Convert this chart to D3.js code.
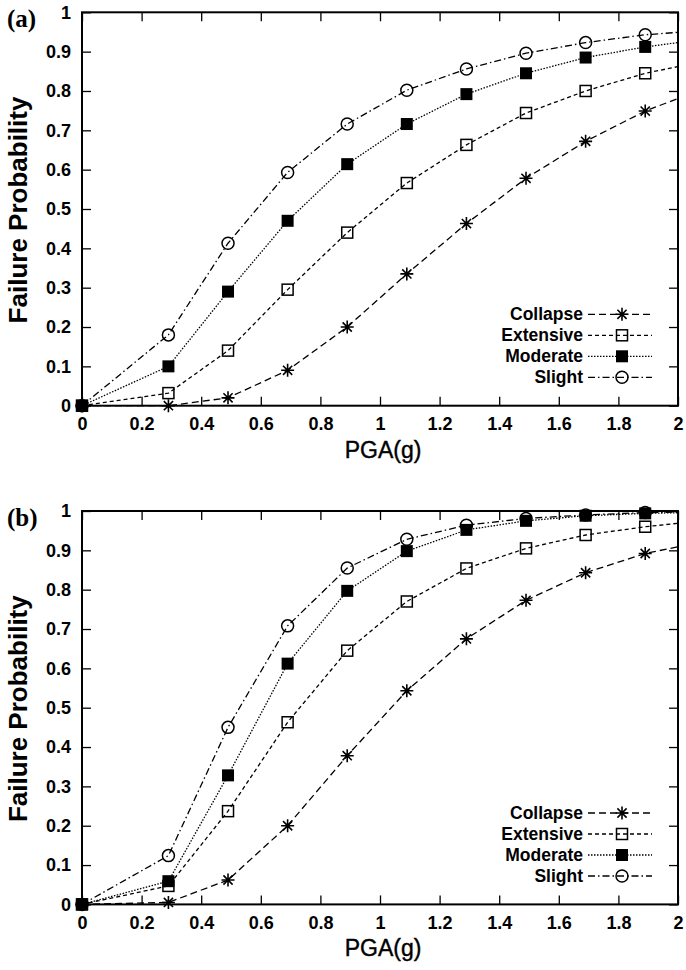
<!DOCTYPE html>
<html>
<head>
<meta charset="utf-8">
<script src="https://cdn.jsdelivr.net/npm/d3@7"></script>
<style>
  body { margin: 0; background: #fff; }
  svg { display: block; }
  .tick text { font-family: "Liberation Sans", Arial, sans-serif; font-weight: bold; font-size: 18px; fill: #000; }
</style>
</head>
<body>
<div id="viz"></div>
<script>
// PGA values (g) where fragility points were computed; last one lies past the frame and is clipped
var pga = [0, 0.29, 0.49, 0.69, 0.89, 1.09, 1.29, 1.49, 1.69, 1.89, 2.09];

// panel (a)
var collapseA  = [0, 0.0,   0.02,  0.09,  0.20,  0.335, 0.463, 0.578, 0.672, 0.749, 0.807];
var extensiveA = [0, 0.032, 0.14,  0.295, 0.44,  0.566, 0.663, 0.744, 0.80,  0.845, 0.876];
var moderateA  = [0, 0.10,  0.29,  0.47,  0.614, 0.716, 0.792, 0.845, 0.885, 0.912, 0.932];
var slightA    = [0, 0.18,  0.413, 0.593, 0.716, 0.802, 0.856, 0.896, 0.923, 0.943, 0.954];

// panel (b)
var collapseB  = [0, 0.005, 0.062, 0.20,  0.378, 0.543, 0.675, 0.773, 0.843, 0.892, 0.923];
var extensiveB = [0, 0.047, 0.237, 0.463, 0.645, 0.77,  0.854, 0.905, 0.939, 0.96,  0.976];
var moderateB  = [0, 0.059, 0.328, 0.612, 0.797, 0.898, 0.952, 0.975, 0.988, 0.994, 0.997];
var slightB    = [0, 0.124, 0.45,  0.708, 0.855, 0.928, 0.964, 0.981, 0.99,  0.996, 0.998];

var damageStates = ['Collapse', 'Extensive', 'Moderate', 'Slight'];
var xTicks = [0, 0.2, 0.4, 0.6, 0.8, 1, 1.2, 1.4, 1.6, 1.8, 2];
var yTicks = [0, 0.1, 0.2, 0.3, 0.4, 0.5, 0.6, 0.7, 0.8, 0.9, 1];

var styles = {
    'Collapse':  {dash: '7,4',          marker: 'star'},
    'Extensive': {dash: '4,3',          marker: 'openSquare'},
    'Moderate':  {dash: '1.5,1.5',      marker: 'filledSquare'},
    'Slight':    {dash: '7,3,1.5,3',    marker: 'openCircle'}
};

var width = 686, height = 970;
var svg = d3.select('#viz').append('svg')
    .attr('width', width)
    .attr('height', height);

var fmt = function (d) { return String(+d.toFixed(1)); };

function drawMarker(g, type, x, y) {
    if (type == 'star') {
        var r = 6.5, s = 4.6;
        g.append('path')
            .attr('d', 'M' + (x - r) + ',' + y + 'H' + (x + r) +
                       'M' + x + ',' + (y - r) + 'V' + (y + r) +
                       'M' + (x - s) + ',' + (y - s) + 'L' + (x + s) + ',' + (y + s) +
                       'M' + (x - s) + ',' + (y + s) + 'L' + (x + s) + ',' + (y - s))
            .attr('stroke', '#000').attr('stroke-width', 1.6).attr('fill', 'none');
    } else if (type == 'openSquare') {
        g.append('rect').attr('x', x - 5.5).attr('y', y - 5.5).attr('width', 11).attr('height', 11)
            .attr('fill', 'none').attr('stroke', '#000').attr('stroke-width', 1.5);
    } else if (type == 'filledSquare') {
        g.append('rect').attr('x', x - 6).attr('y', y - 6).attr('width', 12).attr('height', 12)
            .attr('fill', '#000');
    } else if (type == 'openCircle') {
        g.append('circle').attr('cx', x).attr('cy', y).attr('r', 6)
            .attr('fill', 'none').attr('stroke', '#000').attr('stroke-width', 1.5);
    }
}

function drawPanel(id, top, label, series) {
    var margin = {left: 82, right: 8, top: top};
    var plotW = 678 - 82, plotH = 393.4;

    var x = d3.scaleLinear().domain([0, 2]).range([0, plotW]);
    var y = d3.scaleLinear().domain([0, 1]).range([plotH, 0]);

    var g = svg.append('g').attr('transform', 'translate(' + margin.left + ',' + top + ')');

    // clip only on the right, where the curves run past PGA = 2
    g.append('clipPath').attr('id', 'clip' + id)
        .append('rect').attr('x', -12).attr('y', -8).attr('width', plotW + 12).attr('height', plotH + 16);

    // axes, ticks pointing inward on all four sides
    g.append('g').attr('transform', 'translate(0,' + plotH + ')')
        .call(d3.axisBottom(x).tickValues(xTicks).tickSize(-9).tickPadding(12).tickFormat(fmt));
    g.append('g')
        .call(d3.axisTop(x).tickValues(xTicks).tickSize(-9).tickFormat(''));
    g.append('g')
        .call(d3.axisLeft(y).tickValues(yTicks).tickSize(-9).tickPadding(11).tickFormat(fmt));
    g.append('g').attr('transform', 'translate(' + plotW + ',0)')
        .call(d3.axisRight(y).tickValues(yTicks).tickSize(-9).tickFormat(''));
    g.selectAll('.domain').remove();
    g.selectAll('.tick line').attr('stroke', '#000').attr('stroke-width', 1.3);

    g.append('rect').attr('x', 0).attr('y', 0).attr('width', plotW).attr('height', plotH)
        .attr('fill', 'none').attr('stroke', '#000').attr('stroke-width', 2);

    // data
    var lineGen = d3.line().x(function (d) { return x(d[0]); }).y(function (d) { return y(d[1]); });
    var dataG = g.append('g').attr('clip-path', 'url(#clip' + id + ')');
    damageStates.forEach(function (name) {
        var pts = d3.zip(pga, series[name]);
        dataG.append('path').datum(pts)
            .attr('d', lineGen)
            .attr('fill', 'none')
            .attr('stroke', '#000')
            .attr('stroke-width', 1.3)
            .attr('stroke-dasharray', styles[name].dash);
        pts.forEach(function (p) {
            if (p[0] <= 2) drawMarker(dataG, styles[name].marker, x(p[0]), y(p[1]));
        });
    });

    // legend
    var legOffsets = [302, 323, 344, 365];
    damageStates.forEach(function (name, i) {
        var ly = legOffsets[i];
        g.append('text')
            .attr('x', 583 - margin.left).attr('y', ly)
            .attr('dy', '0.35em')
            .attr('text-anchor', 'end')
            .style('font-family', '"Liberation Sans", Arial, sans-serif')
            .style('font-weight', 'bold')
            .style('font-size', '17.5px')
            .text(name);
        g.append('line')
            .attr('x1', 588 - margin.left).attr('x2', 652 - margin.left)
            .attr('y1', ly).attr('y2', ly)
            .attr('stroke', '#000').attr('stroke-width', 1.3)
            .attr('stroke-dasharray', styles[name].dash);
        drawMarker(g, styles[name].marker, 622 - margin.left, ly);
    });

    // axis titles
    g.append('text')
        .attr('x', plotW / 2 + 3).attr('y', plotH + 52)
        .attr('text-anchor', 'middle')
        .style('font-family', '"Liberation Sans", Arial, sans-serif')
        .style('font-size', '23px')
        .style('stroke', '#000').style('stroke-width', 0.4)
        .text('PGA(g)');
    g.append('text')
        .attr('transform', 'translate(' + (27 - margin.left) + ',' + (plotH / 2 + 1) + ') rotate(-90)')
        .attr('text-anchor', 'middle')
        .style('font-family', '"Liberation Sans", Arial, sans-serif')
        .style('font-weight', 'bold')
        .style('font-size', '26px')
        .text('Failure Probability');

    // panel label
    svg.append('text')
        .attr('x', 7).attr('y', top + 15)
        .style('font-family', '"Liberation Serif", "Times New Roman", serif')
        .style('font-weight', 'bold')
        .style('font-size', '25px')
        .text(label);
}

drawPanel('a', 12.3, '(a)', {
    'Collapse': collapseA, 'Extensive': extensiveA, 'Moderate': moderateA, 'Slight': slightA
});
drawPanel('b', 511, '(b)', {
    'Collapse': collapseB, 'Extensive': extensiveB, 'Moderate': moderateB, 'Slight': slightB
});
</script>
</body>
</html>
